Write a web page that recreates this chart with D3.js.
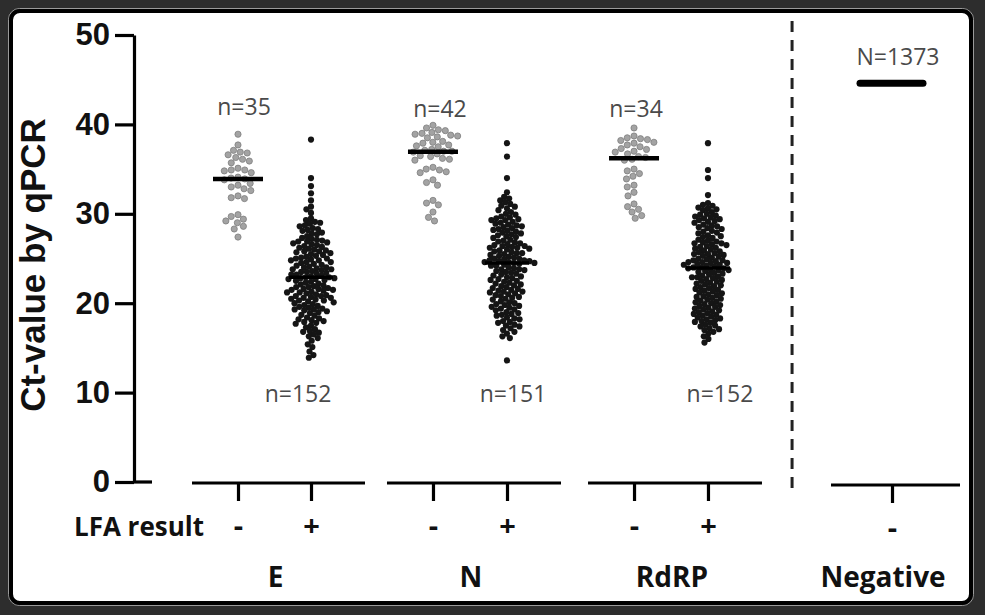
<!DOCTYPE html>
<html><head><meta charset="utf-8">
<script src="https://cdn.jsdelivr.net/npm/d3@7"></script>
<style>html,body{margin:0;padding:0;background:#2d2d2d;} svg{display:block;}</style>
</head><body><svg id="chart" width="985" height="615"></svg>
<script>
// ---------------- DATA ----------------
const genes = ["E", "N", "RdRP", "Negative"];
const lfaTicks = [["-", "+"], ["-", "+"], ["-", "+"], ["-"]];
const yTicks = [0, 10, 20, 30, 40, 50];
const countLabels = ["n=35", "n=152", "n=42", "n=151", "n=34", "n=152", "N=1373"];

const E_neg = [38.9, 37.7, 37.1, 36.9, 36.8, 36.6, 36.3, 36.1, 35.9, 35.7,
  35.1, 34.9, 34.9, 34.8, 34.6, 34.1, 34.0, 33.9, 33.8, 33.4,
  33.2, 33.0, 32.8, 32.6, 32.0, 31.8, 31.7, 29.7, 29.4, 29.2,
  29.0, 28.6, 28.3, 27.4, 29.9];

const E_pos = [38.3,
  34.0, 33.1, 32.3, 31.5, 30.8, 30.5, 30.1,
  29.5, 29.3, 29.1, 29.0, 28.9, 28.7,
  28.6, 28.4, 28.3, 28.1, 27.9, 27.8, 27.7, 27.5, 27.3, 27.2, 27.0, 26.9, 26.9, 26.8, 26.7,
  26.6, 26.5, 26.4, 26.2, 26.1, 26.0, 25.9, 25.8, 25.6, 25.5,
  25.4, 25.3, 25.2, 25.1, 25.0, 24.9, 24.8, 24.8, 24.6, 24.5,
  24.4, 24.3, 24.2, 24.1, 24.0, 23.9, 23.8, 23.7, 23.6, 23.5,
  23.5, 23.4, 23.3, 23.2, 23.1, 23.0, 22.9, 22.8, 22.8, 22.7,
  22.6, 27.1, 22.5, 26.3, 22.4, 18.2, 22.3, 17.9, 22.2, 19.3,
  22.1, 25.8, 22.0, 20.6, 21.9, 21.8, 21.8, 21.7, 21.6, 21.5,
  21.5, 21.4, 21.3, 21.2, 21.1, 21.0, 20.9, 20.8, 20.7, 20.6,
  20.5, 20.4, 20.3, 20.2, 20.1, 20.0, 19.9, 19.8, 19.7, 19.6,
  19.5, 19.4, 19.3, 19.2, 19.1, 19.0, 18.9, 18.7, 18.6, 18.4,
  18.3, 18.1, 18.0, 17.8, 17.7, 17.5, 17.3, 17.1, 16.9, 16.7,
  16.5, 16.3, 16.1, 15.8, 15.4, 15.1, 14.6, 14.2, 13.9,
  25.7, 25.0, 24.6, 24.0, 23.8, 23.2, 22.9, 22.7, 28.2, 16.8, 21.6, 21.2, 20.8, 20.3];

const N_neg = [39.9, 39.6, 39.4, 39.3, 39.1, 39.0, 38.9, 38.8, 38.7, 38.6, 38.5,
  38.1, 38.0, 37.9, 37.7, 37.6, 37.5,
  37.2, 37.1, 37.0, 37.0, 36.9,
  36.7, 36.5, 36.4, 36.2, 36.1, 36.0,
  35.2, 35.0, 34.9, 34.7, 34.6,
  33.8, 33.5, 33.2,
  31.5, 31.2, 31.0,
  30.2, 29.6, 29.2];

const N_pos = [37.9, 36.4, 34.0, 32.4,
  31.9, 31.7, 31.5, 31.3, 31.1, 30.9, 30.8, 30.6, 30.4, 30.2, 30.0, 29.9, 29.7, 29.6, 29.5, 29.4, 29.3, 29.3,
  29.1, 29.0, 28.8, 28.7, 28.5, 28.4, 28.2, 28.1, 28.0, 27.8,
  27.7, 27.6, 27.4, 27.3, 27.1, 27.0, 26.9, 26.8, 26.6, 26.5,
  26.4, 26.4, 26.3, 26.1, 26.0, 25.9, 25.8, 25.6, 25.5, 25.4,
  25.3, 25.2, 25.1, 25.0, 24.9, 24.8, 24.7, 24.7, 24.6, 24.6,
  24.5, 27.9, 24.4, 21.3, 24.3, 28.6, 24.2, 19.7, 24.0, 26.2,
  23.9, 23.8, 23.7, 23.6, 23.5, 23.3, 23.2, 23.0, 22.9, 22.8,
  22.6, 22.5, 22.4, 22.2, 22.1, 22.0, 21.9, 21.8, 21.6, 21.5,
  21.4, 21.2, 21.1, 21.0, 20.8, 20.7, 20.5, 20.4, 20.2, 20.1,
  19.9, 19.8, 19.6, 19.5, 19.3, 19.2, 19.0, 18.9, 18.7, 18.6,
  18.4, 18.2, 18.0, 17.8, 17.6, 17.4, 17.2, 17.0, 16.8, 16.6,
  16.3, 16.1, 13.6,
  28.9, 28.3, 27.5, 26.7, 26.2, 25.7, 25.0, 24.8, 24.5, 24.2, 23.8, 23.4, 23.1,
  22.7, 22.3, 21.7, 21.3, 20.9, 20.6, 20.0, 19.4, 18.8, 18.3, 17.9, 17.5, 25.6];

const RdRP_neg = [39.6,
  38.7, 38.5, 38.4, 38.3, 38.2, 38.0, 37.9,
  37.7, 37.5, 37.3, 37.2, 37.0, 36.9, 36.7,
  36.4, 36.3, 36.1, 36.0,
  35.0, 34.8, 34.5, 34.2, 33.9,
  33.2, 33.0,
  32.4, 32.0,
  31.1, 30.8, 30.5, 30.2, 29.8, 29.5];

const RdRP_pos = [37.9, 34.9, 34.0, 32.1,
  31.2, 31.0, 30.9, 30.7, 30.6, 30.4, 30.2, 30.0, 29.9, 29.7,
  29.6, 29.4, 29.3, 29.1, 29.0, 28.8, 28.7, 28.5, 28.4, 28.3,
  28.1, 28.0, 27.8, 27.6, 27.5, 27.3, 27.1, 27.0, 26.8, 26.7,
  26.5, 26.4, 26.2, 26.1, 26.0, 25.9, 25.7, 25.6, 25.5, 25.4,
  25.2, 25.1, 25.0, 24.9, 24.8, 24.7, 24.6, 29.5, 24.5, 18.1,
  24.4, 26.7, 24.3, 24.2, 24.1, 24.0, 23.9, 23.8, 23.7, 23.6,
  23.5, 23.4, 23.3, 23.1, 23.0, 22.9, 22.8, 22.6, 22.5, 22.4,
  22.2, 22.1, 22.0, 21.8, 21.7, 21.6, 21.4, 21.3, 21.2, 21.0,
  20.9, 20.7, 20.6, 20.4, 20.3, 20.1, 20.0, 19.8, 19.7, 19.5,
  19.4, 19.2, 19.1, 18.9, 18.8, 18.6, 18.5, 18.3, 18.2, 18.0,
  17.8, 17.6, 17.4, 17.2, 17.0, 16.8, 16.6, 16.3, 16.0, 15.6,
  30.5, 29.8, 29.2, 28.6, 27.9, 27.4, 26.9, 26.3, 25.8, 25.3,
  24.8, 24.6, 24.3, 24.0, 23.7, 23.2, 22.7, 22.3, 21.9, 21.5,
  21.1, 20.8, 20.5, 20.2, 19.9, 19.6, 19.3, 19.0, 18.7, 18.4,
  17.9, 17.5, 17.1, 24.5, 25.5, 26.6, 23.9, 22.9];

const Negative_median = [44.6];

// ---------------- LAYOUT ----------------
const W = 985, H = 615;
const y = d3.scaleLinear().domain([0, 50]).range([482, 35]);
// slot scale: one unit = spacing between "-" and "+" columns
const slot = d3.scaleLinear().domain([0, 1]).range([238, 311]);
const slotPos = [[0, 1], [2.671, 3.685], [5.425, 6.438], [8.959]];
const dividerSlot = 7.59;
const series = [
  { vals: E_neg, g: 0, k: 0, neg: true },
  { vals: E_pos, g: 0, k: 1, neg: false },
  { vals: N_neg, g: 1, k: 0, neg: true },
  { vals: N_pos, g: 1, k: 1, neg: false },
  { vals: RdRP_neg, g: 2, k: 0, neg: true },
  { vals: RdRP_pos, g: 2, k: 1, neg: false }
];

const svg = d3.select("#chart");
svg.append("rect").attr("width", W).attr("height", H).attr("fill", "#2d2d2d");
svg.append("rect").attr("x", 8.5).attr("y", 8.5).attr("width", 965).attr("height", 597)
  .attr("rx", 11).attr("fill", "none").attr("stroke", "#9a9a9a").attr("stroke-width", 1);
svg.append("rect").attr("x", 11).attr("y", 11).attr("width", 960).attr("height", 592)
  .attr("rx", 9).attr("fill", "#ffffff").attr("stroke", "#000").attr("stroke-width", 4);

// y axis
const yAxis = svg.append("g").attr("transform", "translate(134,0)")
  .call(d3.axisLeft(y).tickValues(yTicks).tickSize(19).tickSizeOuter(0).tickPadding(5));
yAxis.select(".domain").attr("stroke-width", 3.2);
yAxis.selectAll(".tick line").attr("stroke-width", 3.2);
yAxis.selectAll(".tick text").attr("font-family", "Liberation Sans, Arial, sans-serif")
  .attr("font-weight", "bold").attr("font-size", 31).attr("fill", "#111");
svg.append("line").attr("x1", 134).attr("x2", 152).attr("y1", y(0)).attr("y2", y(0))
  .attr("stroke", "#000").attr("stroke-width", 3.2);

svg.append("text").attr("transform", "translate(45,265) rotate(-90)")
  .attr("text-anchor", "middle").attr("font-family", "Liberation Sans, Arial, sans-serif")
  .attr("font-weight", "bold").attr("font-size", 35).attr("fill", "#111")
  .text("Ct-value by qPCR");

// x axis segments per gene
genes.forEach((g, gi) => {
  const xs = slotPos[gi].map(s => slot(s));
  const sc = d3.scaleOrdinal().domain(lfaTicks[gi]).range(xs);
  const yy = gi === 3 ? 485 : 483;
  const lo = gi === 3 ? xs[0] - 61 : xs[0] - 46;
  const hi = gi === 3 ? xs[xs.length - 1] + 68 : xs[xs.length - 1] + 54;
  svg.append("line").attr("x1", lo).attr("x2", hi).attr("y1", yy).attr("y2", yy)
    .attr("stroke", "#000").attr("stroke-width", 3.2);
  const ax = svg.append("g").attr("transform", `translate(0,${yy})`)
    .call(d3.axisBottom(sc).tickSize(18).tickSizeOuter(0).tickPadding(14));
  ax.select(".domain").remove();
  ax.selectAll(".tick line").attr("stroke-width", 3.2);
  ax.selectAll(".tick text").attr("font-family", "Open Sans, sans-serif").attr("font-weight", "bold")
    .attr("font-size", 29).attr("fill", "#111");
  svg.append("text").attr("x", d3.mean(xs) + (gi === 3 ? -9 : 1)).attr("y", 587)
    .attr("text-anchor", "middle").attr("font-family", "Open Sans, sans-serif")
    .attr("font-weight", "bold").attr("font-size", 28).attr("fill", "#111").text(g);
});

svg.append("text").attr("x", 204).attr("y", 536).attr("text-anchor", "end")
  .attr("font-family", "Open Sans, sans-serif").attr("font-weight", "bold")
  .attr("font-size", 26).attr("fill", "#111").text("LFA result");

// dashed divider
svg.append("line").attr("x1", slot(dividerSlot)).attr("x2", slot(dividerSlot))
  .attr("y1", 21).attr("y2", 489).attr("stroke", "#222").attr("stroke-width", 3)
  .attr("stroke-dasharray", "11,8");

// beeswarm layout
function swarm(vals, d) {
  const pts = vals.map(v => ({ v, y: y(v) })).sort((a, b) => a.y - b.y);
  const placed = [];
  for (const p of pts) {
    const near = placed.filter(q => Math.abs(q.y - p.y) < d);
    const cands = [0];
    near.forEach(q => {
      const dx = Math.sqrt(d * d - (q.y - p.y) ** 2);
      cands.push(q.x - dx, q.x + dx);
    });
    cands.sort((a, b) => Math.abs(a) - Math.abs(b));
    for (const c of cands) {
      if (near.every(q => (q.x - c) ** 2 + (q.y - p.y) ** 2 >= d * d - 0.01)) { p.x = c; break; }
    }
    placed.push(p);
  }
  return placed;
}

series.forEach(s => {
  const cx = slot(slotPos[s.g][s.k]);
  const pts = swarm(s.vals, s.neg ? 7.0 : 5.3);
  const med = d3.median(s.vals);
  if (!s.neg) {
    svg.append("g").selectAll("circle").data(pts).join("circle")
      .attr("cx", d => cx + d.x).attr("cy", d => d.y).attr("r", 3.1)
      .attr("fill", "#151515");
    svg.append("line").attr("x1", cx - 22).attr("x2", cx + 22).attr("y1", y(med)).attr("y2", y(med))
      .attr("stroke", "#000").attr("stroke-width", 3.5);
  } else {
    svg.append("g").selectAll("circle").data(pts).join("circle")
      .attr("cx", d => cx + d.x).attr("cy", d => d.y).attr("r", 3.1)
      .attr("fill", "#a3a3a3").attr("stroke", "#7d7d7d").attr("stroke-width", 0.8);
    svg.append("line").attr("x1", cx - 25).attr("x2", cx + 25).attr("y1", y(med)).attr("y2", y(med))
      .attr("stroke", "#000").attr("stroke-width", 4.5);
  }
});

// negative group median bar
const negX = slot(slotPos[3][0]);
svg.append("line").attr("x1", negX - 32).attr("x2", negX + 31)
  .attr("y1", y(d3.median(Negative_median))).attr("y2", y(d3.median(Negative_median)))
  .attr("stroke", "#000").attr("stroke-width", 7).attr("stroke-linecap", "round");

// count labels: [slot, value position, dx]
const labelPlace = [[0, 41.0, 6], [1, 9.0, -13], [2.671, 40.8, 7], [3.685, 9.0, 6], [5.425, 40.8, 2], [6.438, 9.0, 12], [8.959, 46.6, 6]];
countLabels.forEach((t, i) => {
  const p = labelPlace[i];
  svg.append("text").attr("x", slot(p[0]) + p[2]).attr("y", y(p[1]))
    .attr("text-anchor", "middle").attr("font-family", "Open Sans, sans-serif")
    .attr("font-size", 23).attr("fill", "#4a4a4a").text(t);
});
</script>
</body></html>
